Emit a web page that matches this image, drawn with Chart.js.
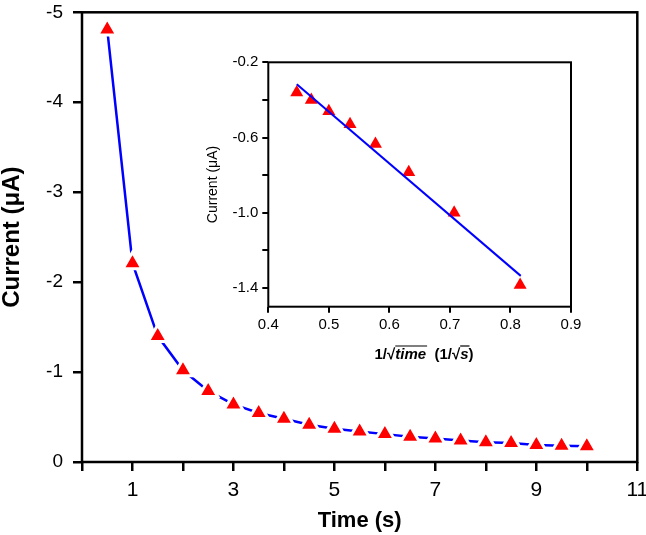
<!DOCTYPE html>
<html>
<head>
<meta charset="utf-8">
<script src="https://cdn.jsdelivr.net/npm/chart.js@4.4.0/dist/chart.umd.min.js"></script>
<style>
  html, body { margin: 0; padding: 0; background: #fff; }
  #wrap { position: relative; width: 646px; height: 535px; }
  #main { position: absolute; left: 0; top: 0; }
  #inset { position: absolute; left: 190px; top: 40px; }
</style>
</head>
<body>
<div id="wrap">
  <canvas id="main" width="646" height="535"></canvas>
  <canvas id="inset" width="400" height="330"></canvas>
</div>
<script>
// main panel: current decay vs time
const times = [0.5, 1, 1.5, 2, 2.5, 3, 3.5, 4, 4.5, 5, 5.5, 6, 6.5, 7, 7.5, 8, 8.5, 9, 9.5, 10];
const current = [-4.81, -2.21, -1.40, -1.02, -0.79, -0.64, -0.545, -0.48, -0.415, -0.37,
                 -0.34, -0.31, -0.28, -0.26, -0.24, -0.22, -0.21, -0.19, -0.18, -0.175];
const xTickValues = [0, 1, 2, 3, 4, 5, 6, 7, 8, 9, 10, 11];
const xTickLabels = [1, 3, 5, 7, 9, 11];
const yTickValues = [-5, -4, -3, -2, -1, 0];

// inset: current vs 1/sqrt(t)
const insetX = [0.447, 0.471, 0.5, 0.535, 0.577, 0.632, 0.707, 0.816];
const insetY = [-0.36, -0.40, -0.46, -0.53, -0.635, -0.785, -1.00, -1.385];
const fitX = [0.447, 0.817];
const fitY = [-0.317, -1.336];
const insetXTicks = [0.4, 0.5, 0.6, 0.7, 0.8, 0.9];
const insetYTicks = [-1.4, -1.2, -1.0, -0.8, -0.6, -0.4, -0.2];
const insetYLabels = [-1.4, -1.0, -0.6, -0.2];

const FONT = '"Liberation Sans", Arial, sans-serif';
const RED = '#ff0000';
const BLUE = '#0000ff';

const pts = (xs, ys) => xs.map((x, i) => ({ x: x, y: ys[i] }));

const frame = {
  id: 'frame',
  afterDraw(chart, args, opts) {
    const a = chart.chartArea, ctx = chart.ctx;
    ctx.save();
    ctx.lineWidth = opts.width;
    ctx.strokeStyle = '#000';
    ctx.strokeRect(a.left, a.top, a.right - a.left, a.bottom - a.top);
    ctx.restore();
  }
};

function tickGrid(len, w) {
  return { drawOnChartArea: false, drawTicks: true, tickLength: len, tickWidth: w,
           tickColor: '#000', color: '#000', lineWidth: w };
}

new Chart(document.getElementById('main'), {
  type: 'scatter',
  data: {
    datasets: [{
      data: pts(times, current),
      showLine: true,
      borderColor: BLUE,
      borderWidth: 2.5,
      pointStyle: 'triangle',
      pointRadius: 11,
      pointBackgroundColor: RED,
      pointBorderColor: '#fff',
      pointBorderWidth: 3,
      clip: false
    }]
  },
  options: {
    responsive: false,
    animation: false,
    layout: { autoPadding: false, padding: { top: 12.3, right: 8.7, left: 0, bottom: 0 } },
    plugins: { legend: { display: false }, tooltip: { enabled: false }, frame: { width: 2.5 } },
    scales: {
      x: {
        type: 'linear', min: 0, max: 11,
        afterBuildTicks: s => { s.ticks = xTickValues.map(v => ({ value: v })); },
        afterFit: s => { s.height = 73; s.paddingLeft = 0; s.paddingRight = 0; },
        border: { display: false },
        grid: tickGrid(9, 2.5),
        ticks: {
          autoSkip: false, maxRotation: 0, padding: 7, color: '#000',
          font: { family: FONT, size: 21 },
          callback: v => xTickLabels.includes(v) ? String(v) : ''
        },
        title: {
          display: true, text: 'Time (s)', color: '#000',
          font: { family: FONT, size: 22, weight: 'bold', lineHeight: 1.2 },
          padding: { top: 0, bottom: 1 }
        }
      },
      y: {
        type: 'linear', min: -5, max: 0, reverse: true,
        afterBuildTicks: s => { s.ticks = yTickValues.map(v => ({ value: v })); },
        afterFit: s => { s.width = 82; s.paddingTop = 0; s.paddingBottom = 0; },
        border: { display: false },
        grid: tickGrid(9, 2.5),
        ticks: {
          autoSkip: false, padding: 10, color: '#000',
          font: { family: FONT, size: 19 },
          callback: v => String(v)
        },
        title: {
          display: true, text: 'Current (μA)', color: '#000',
          font: { family: FONT, size: 24, weight: 'bold', lineHeight: 1.0 },
          padding: { top: 0, bottom: 0 }
        }
      }
    }
  },
  plugins: [frame]
});

// x title of the inset: 1/√time (1/√s) with overbars
const insetXTitle = {
  id: 'insetXTitle',
  afterDraw(chart) {
    const ctx = chart.ctx;
    const b = 'bold 15px ' + FONT, bi = 'italic bold 15px ' + FONT;
    const parts = [
      { t: '1/', f: b }, { t: '\u221A', f: b }, { t: 'time', f: bi, bar: true },
      { t: '  (1/', f: b }, { t: '\u221A', f: b }, { t: 's', f: bi, bar: true }, { t: ')', f: b }
    ];
    ctx.save();
    let total = 0;
    parts.forEach(p => { ctx.font = p.f; p.w = ctx.measureText(p.t).width; total += p.w; });
    let x = 234 - total / 2;
    const y = 315;
    ctx.fillStyle = '#000';
    ctx.strokeStyle = '#000';
    ctx.lineWidth = 1.2;
    ctx.textBaseline = 'middle';
    ctx.textAlign = 'left';
    parts.forEach(p => {
      ctx.font = p.f;
      ctx.fillText(p.t, x, y);
      if (p.bar) {
        ctx.beginPath();
        ctx.moveTo(x, y - 9);
        ctx.lineTo(x + p.w + 1, y - 9);
        ctx.stroke();
      }
      x += p.w;
    });
    ctx.restore();
  }
};

new Chart(document.getElementById('inset'), {
  type: 'scatter',
  data: {
    datasets: [{
      data: pts(fitX, fitY),
      showLine: true,
      borderColor: BLUE,
      borderWidth: 2,
      pointRadius: 0
    }, {
      data: pts(insetX, insetY),
      showLine: false,
      pointStyle: 'triangle',
      pointRadius: 7.5,
      pointBackgroundColor: RED,
      pointBorderColor: RED,
      pointBorderWidth: 0,
      clip: false
    }]
  },
  options: {
    responsive: false,
    animation: false,
    layout: { autoPadding: false, padding: { top: 22.3, right: 19, left: 0, bottom: 0 } },
    plugins: { legend: { display: false }, tooltip: { enabled: false }, frame: { width: 2 } },
    scales: {
      x: {
        type: 'linear', min: 0.4, max: 0.9,
        afterBuildTicks: s => { s.ticks = insetXTicks.map(v => ({ value: v })); },
        afterFit: s => { s.height = 63.3; s.paddingLeft = 0; s.paddingRight = 0; },
        border: { display: false },
        grid: tickGrid(6, 2),
        ticks: {
          autoSkip: false, maxRotation: 0, padding: 3, color: '#000',
          font: { family: FONT, size: 15 },
          callback: v => v.toFixed(1)
        }
      },
      y: {
        type: 'linear', min: -1.5, max: -0.2,
        afterBuildTicks: s => { s.ticks = insetYTicks.map(v => ({ value: v })); },
        afterFit: s => { s.width = 78.3; s.paddingTop = 0; s.paddingBottom = 0; },
        border: { display: false },
        grid: tickGrid(6, 2),
        ticks: {
          autoSkip: false, padding: 4, color: '#000',
          font: { family: FONT, size: 15 },
          callback: v => insetYLabels.includes(v) ? v.toFixed(1) : ''
        },
        title: {
          display: true, text: 'Current (μA)', color: '#000',
          font: { family: FONT, size: 14, lineHeight: 1.2 },
          padding: { top: 14.6, bottom: 0 }
        }
      }
    }
  },
  plugins: [frame, insetXTitle]
});
</script>
</body>
</html>
